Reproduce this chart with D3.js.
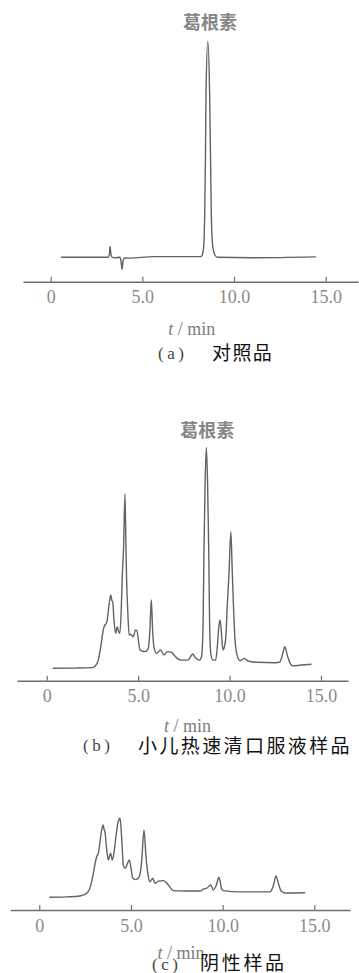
<!DOCTYPE html>
<html>
<head>
<meta charset="utf-8">
<script src="https://cdn.jsdelivr.net/npm/d3@7"></script>
<style>
  html, body { margin: 0; padding: 0; background: #fff; }
  svg { display: block; }
</style>
</head>
<body>
<svg id="chart" width="359" height="973"></svg>
<script>
// Retention-time axis
const tickValues = [0, 5, 10, 15];
const tickLabels = ["0", "5.0", "10.0", "15.0"];
const peakName = "葛根素";
const captionTags = ["(a)", "(b)", "(c)"];
const captionTexts = ["对照品", "小儿热速清口服液样品", "阴性样品"];

// (a) reference standard: retention time (min) and detector signal
const timeA = [0.56, 3.05, 3.13, 3.20, 3.24, 3.29, 3.36, 3.50, 3.78, 3.84, 3.89, 3.95, 4.02, 4.30, 5.60,
  8.17, 8.25, 8.34, 8.40, 8.44, 8.47, 8.57, 8.67, 8.72, 8.76, 8.84, 8.95, 9.10, 11.0, 14.47];
const signalA = [0, 0, 0, 1.5, 5.0, 1.2, 0, -0.2, 0, -2.0, -5.6, -1.5, -0.3, -0.4, 0.3,
  0.3, 0.8, 4.5, 20, 45, 75, 100, 75, 45, 20, 5, 1.2, 0, -0.2, 0.2];

// (b) oral liquid sample
const timeB = [0.33, 1.5, 2.5, 2.64, 2.82, 2.97, 3.09, 3.18, 3.24, 3.30, 3.42, 3.50, 3.56, 3.61, 3.68, 3.77,
  3.86, 3.93, 4.00, 4.08, 4.13, 4.20, 4.28, 4.33, 4.37, 4.43, 4.51, 4.60, 4.73, 4.86, 4.93, 5.03, 5.10,
  5.37, 5.55, 5.64, 5.72, 5.79, 5.86, 6.01, 6.23, 6.41, 6.60, 6.80, 6.95, 7.20, 7.38, 7.72, 7.90, 7.98,
  8.12, 8.34, 8.47, 8.55, 8.60, 8.66, 8.73, 8.80, 8.86, 8.91, 8.98, 9.10, 9.24, 9.33, 9.41, 9.48, 9.55,
  9.60, 9.65, 9.72, 9.80, 9.88, 9.97, 10.07, 10.15, 10.30, 10.43, 10.57, 10.83, 11.00, 11.50, 12.50,
  12.75, 12.89, 13.02, 13.16, 13.30, 13.46, 13.90, 14.48];
const signalB = [0, 0.1, 0.3, 0.9, 3.8, 10.8, 17.7, 20.0, 20.5, 22, 30, 34, 31.5, 30.8, 22, 16.2,
  19.3, 17, 16.2, 28, 42, 55, 80.7, 58, 41, 27, 15.4, 15.8, 14.6, 17.7, 17.5, 12, 8.5,
  7.7, 9, 17, 31.6, 18, 10, 6.9, 8.5, 6.2, 7.7, 7.5, 6.3, 4.2, 3.8, 3.8, 5.8, 6.6,
  5, 3.8, 5.5, 20, 55, 85, 102.3, 85, 55, 20, 6.5, 3.8, 3.8, 10, 19, 22.4, 17,
  11, 8.5, 10, 15, 30, 44, 63.2, 44, 13, 5.5, 3.5, 4.6, 3.4, 2.8, 2.6,
  2.9, 6.2, 10, 6.0, 2.5, 1.1, 1.5, 1.9];

// (c) negative sample
const timeC = [0.55, 1.5, 2.22, 2.45, 2.67, 2.82, 2.95, 3.05, 3.13, 3.22, 3.30, 3.40, 3.49, 3.53, 3.58,
  3.68, 3.76, 3.89, 3.98, 4.08, 4.18, 4.30, 4.40, 4.46, 4.51, 4.58, 4.69, 4.80, 4.91, 4.99, 5.10, 5.25,
  5.40, 5.52, 5.59, 5.71, 5.82, 5.95, 6.04, 6.19, 6.31, 6.49, 6.77, 7.04, 7.31, 8.0, 8.77, 8.95, 9.15,
  9.35, 9.49, 9.65, 9.80, 9.95, 10.04, 10.95, 12.58, 12.72, 12.80, 12.91, 13.05, 13.19, 13.40, 14.50];
const signalC = [0, 0.2, 0.6, 1.2, 2.6, 6, 11.1, 16, 18.8, 20.4, 25, 31, 33.5, 31.5, 30.4,
  21.9, 17.3, 20.4, 17.3, 21, 28.1, 35, 36.6, 32, 25, 15, 13.4, 15.5, 17.3, 14.2, 8.8, 8.2,
  8.8, 12, 17.3, 31.2, 18.8, 9.5, 7.2, 8.8, 6.5, 7.5, 7.7, 5.7, 3.1, 2.9, 2.9, 3.8, 4.3,
  5.7, 3.4, 5.5, 9.3, 3.8, 3.1, 2.5, 2.5, 4.3, 6.5, 9.9, 6.2, 2.9, 2.0, 2.1];

const series = [
  { time: timeA, signal: signalA },
  { time: timeB, signal: signalB },
  { time: timeC, signal: signalC }
];

// Panel placement on the page
const panels = [
  { x0: 50.7, x15: 325.7, line: [23, 358], axisY: 281.7, baseY: 257.3,
    peak: { t: 8.57, dx: 2.2, y: 28.5 },
    title: { x: 191.7, y: 335 }, tag: { x: 158, y: 358.5 }, cap: { x: 212, y: 360, ls: 1.4 } },
  { x0: 46.7, x15: 321, line: [17, 348], axisY: 680.7, baseY: 668.3,
    peak: { t: 8.73, dx: 1, y: 436.8 },
    title: { x: 187.5, y: 731.5 }, tag: { x: 83, y: 751 }, cap: { x: 138, y: 752.5, ls: 2.4 } },
  { x0: 39.3, x15: 314.3, line: [10, 350], axisY: 910, baseY: 897.3,
    peak: null,
    title: { x: 181, y: 958.5 }, tag: { x: 152, y: 969.5 }, cap: { x: 200, y: 970, ls: 2.7 } }
];

const svg = d3.select("#chart");
const traceColor = "#626262";
const axisColor = "#6e6e6e";
const labelColor = "#8a8a8a";

panels.forEach((p, i) => {
  const g = svg.append("g");
  const s = series[i];

  const x = d3.scaleLinear().domain([0, 15]).range([p.x0, p.x15]);
  const y = d3.scaleLinear().domain([0, 100]).range([p.baseY, p.baseY - 216]);

  // axis spans a little beyond the tick range
  const xAxisScale = x.copy()
    .domain([x.invert(p.line[0]), x.invert(p.line[1])])
    .range(p.line);

  const axis = d3.axisBottom(xAxisScale)
    .tickValues(tickValues)
    .tickFormat((d, k) => tickLabels[k])
    .tickSizeInner(-5)
    .tickSizeOuter(0)
    .tickPadding(9);

  const ag = g.append("g")
    .attr("transform", `translate(0,${p.axisY})`)
    .call(axis);
  ag.select(".domain").attr("stroke", axisColor).attr("stroke-width", 1.4);
  ag.selectAll(".tick line").attr("stroke", axisColor).attr("stroke-width", 1.2);
  ag.selectAll(".tick text")
    .attr("fill", labelColor)
    .attr("font-family", "'Liberation Serif', 'DejaVu Serif', serif")
    .attr("font-size", 18);

  // chromatogram trace
  const line = d3.line()
    .x((d, k) => x(s.time[k]))
    .y((d, k) => y(s.signal[k]))
    .curve(d3.curveMonotoneX);

  g.append("path")
    .datum(s.time)
    .attr("d", line)
    .attr("fill", "none")
    .attr("stroke", traceColor)
    .attr("stroke-width", 1.4)
    .attr("stroke-linejoin", "round");

  // peak annotation
  if (p.peak) {
    g.append("text")
      .attr("x", x(p.peak.t) + p.peak.dx)
      .attr("y", p.peak.y)
      .attr("text-anchor", "middle")
      .attr("font-family", "'Noto Sans CJK SC', sans-serif")
      .attr("font-size", 18)
      .attr("font-weight", 700)
      .attr("fill", "#858585")
      .text(peakName);
  }

  // axis title
  const tt = g.append("text")
    .attr("x", p.title.x)
    .attr("y", p.title.y)
    .attr("text-anchor", "middle")
    .attr("font-family", "'Liberation Serif', 'DejaVu Serif', serif")
    .attr("font-size", 18)
    .attr("fill", "#7d7d7d");
  tt.append("tspan").attr("font-style", "italic").text("t");
  tt.append("tspan").text(" / min");

  // caption
  g.append("text")
    .attr("x", p.tag.x)
    .attr("y", p.tag.y)
    .attr("font-family", "'Liberation Serif', 'DejaVu Serif', serif")
    .attr("font-size", 17)
    .attr("letter-spacing", 3.5)
    .attr("fill", "#444")
    .text(captionTags[i]);

  g.append("text")
    .attr("x", p.cap.x)
    .attr("y", p.cap.y)
    .attr("font-family", "'Noto Sans CJK SC', sans-serif")
    .attr("font-size", 19)
    .attr("letter-spacing", p.cap.ls)
    .attr("fill", "#111")
    .text(captionTexts[i]);
});
</script>
</body>
</html>
